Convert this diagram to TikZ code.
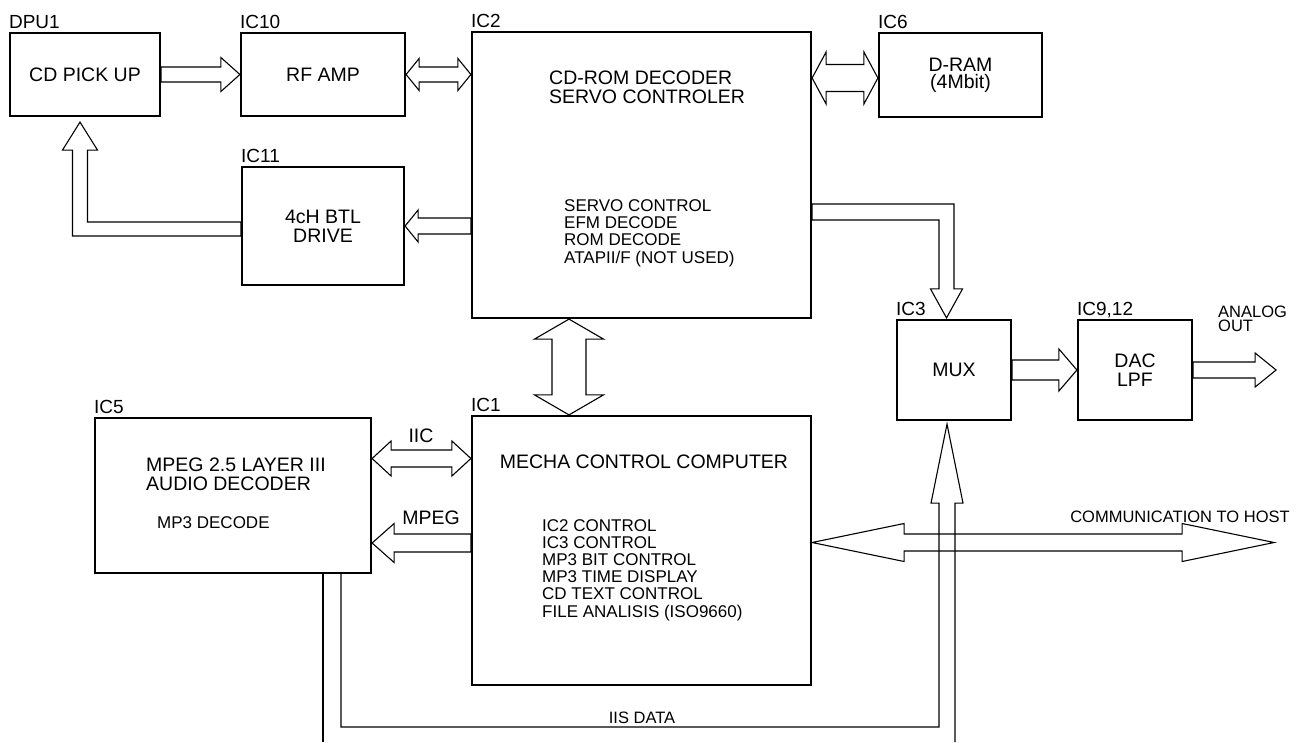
\documentclass[tikz,border=0pt]{standalone}
\usepackage{fontspec}
\setmainfont{Liberation Sans}
\usetikzlibrary{calc}

\newcommand\boxfont{\fontsize{19.5}{19}\selectfont}
\newcommand\dramfont{\fontsize{19.5}{17}\selectfont}
\newcommand\listfont{\fontsize{17}{17.2}\selectfont}
\newcommand\notefont{\fontsize{16.5}{14}\selectfont}

% hollow block arrow: from, tip, shaft half width, head half width, head length
\newcommand{\fatarrow}[5]{%
  \coordinate (fh) at ($(#2)!#5pt!(#1)$);
  \draw[fat] (#2) -- ($(fh)!#4pt!90:(#2)$) -- ($(fh)!#3pt!90:(#2)$) -- ($(#1)!#3pt!90:(fh)$)
    -- ($(#1)!#3pt!-90:(fh)$) -- ($(fh)!#3pt!-90:(#2)$) -- ($(fh)!#4pt!-90:(#2)$) -- cycle;}
% same with a head at both ends
\newcommand{\fatboth}[5]{%
  \coordinate (fa) at ($(#1)!#5pt!(#2)$);
  \coordinate (fb) at ($(#2)!#5pt!(#1)$);
  \draw[fat] (#1) -- ($(fa)!#4pt!90:(#2)$) -- ($(fa)!#3pt!90:(#2)$) -- ($(fb)!#3pt!-90:(#1)$)
    -- ($(fb)!#4pt!-90:(#1)$) -- (#2) -- ($(fb)!#4pt!90:(#1)$) -- ($(fb)!#3pt!90:(#1)$)
    -- ($(fa)!#3pt!-90:(#2)$) -- ($(fa)!#4pt!-90:(#2)$) -- cycle;}

\begin{document}
\begin{tikzpicture}[x=1pt,y=-1pt,
  blk/.style={draw,line width=2.2pt,inner sep=0pt,align=center,font=\boxfont},
  tag/.style={anchor=base west,inner sep=0pt,font=\fontsize{19}{19}\selectfont},
  txt/.style={inner sep=0pt,align=left},
  fat/.style={line width=1.1pt,line join=miter}]
  \useasboundingbox (0,0) rectangle (1297,742);

  \node[blk,minimum width=150pt,minimum height=83pt] (pick) at (85,74.5) {CD PICK UP};
  \node[blk,minimum width=164pt,minimum height=83pt] (rfamp) at (323,74.5) {RF AMP};
  \node[blk,minimum width=339pt,minimum height=286pt] (ic2) at (641.5,175) {};
  \node[blk,minimum width=163pt,minimum height=84pt,font=\dramfont] (dram) at (960.5,75) {D-RAM\\(4Mbit)};
  \node[blk,minimum width=162pt,minimum height=118pt] (btl) at (323,226) {4cH BTL\\DRIVE};
  \node[blk,minimum width=114pt,minimum height=100pt] (mux) at (954,370) {MUX};
  \node[blk,minimum width=114pt,minimum height=100pt] (dac) at (1135,370) {DAC\\LPF};
  \node[blk,minimum width=276pt,minimum height=155pt] (ic5) at (233,495.5) {};
  \node[blk,minimum width=339pt,minimum height=269pt] (ic1) at (641.5,550.5) {};

  \foreach \n/\t in {pick/DPU1,rfamp/IC10,ic2/IC2,dram/IC6,btl/IC11,mux/IC3,dac/{IC9,12},ic5/IC5,ic1/IC1}
    \node[tag] (t\n) at ([yshift=3pt]\n.north west) {\t};

  \node[txt,anchor=base west,font=\boxfont] (ic2t) at (549,103) {CD-ROM DECODER\\SERVO CONTROLER};
  \node[txt,anchor=base west,font=\listfont] (ic2l) at (564,263) {SERVO CONTROL\\EFM DECODE\\ROM DECODE\\ATAPII/F (NOT USED)};
  \node[txt,anchor=base,font=\boxfont] (ic1t) at (644,468) {MECHA CONTROL COMPUTER};
  \node[txt,anchor=base west,font=\listfont] (ic1l) at (542,617) {IC2 CONTROL\\IC3 CONTROL\\MP3 BIT CONTROL\\MP3 TIME DISPLAY\\CD TEXT CONTROL\\FILE ANALISIS (ISO9660)};
  \node[txt,anchor=base west,font=\boxfont] (ic5t) at (146,490) {MPEG 2.5 LAYER III\\AUDIO DECODER};
  \node[txt,anchor=base west,font=\listfont] (ic5l) at (157,528) {MP3 DECODE};
  \node[txt,anchor=base,font=\boxfont] (iic) at (421,442) {IIC};
  \node[txt,anchor=base,font=\boxfont] (mpeg) at (431,524) {MPEG};
  \node[txt,anchor=base,font=\notefont] (host) at (1180,522) {COMMUNICATION TO HOST};
  \node[txt,anchor=base west,font=\notefont] (aout) at (1218,331) {ANALOG\\OUT};
  \node[txt,anchor=base,font=\notefont] (iisd) at (642,723) {IIS DATA};

  \coordinate (p1) at (ic2.west |- rfamp.east);
  \coordinate (p2a) at ([yshift=-3pt]dram.west);
  \coordinate (p2) at (ic2.east |- p2a);
  \coordinate (p3) at (ic2.west |- btl.east);
  \coordinate (p4) at ([xshift=-72.5pt]ic2.south);
  \coordinate (p5) at ([xshift=-72.5pt]ic1.north);
  \coordinate (out) at ([xshift=83pt]dac.east);
  \coordinate (iicl) at ([yshift=37pt]ic5.east);
  \coordinate (iicr) at (ic1.west |- iicl);
  \coordinate (mpl) at ([yshift=-47.5pt]ic5.east);
  \coordinate (mpr) at (ic1.west |- mpl);
  \coordinate (hl) at ([yshift=8pt]ic1.east);
  \coordinate (hr) at ([xshift=462pt]hl);

  \fatarrow{pick.east}{rfamp.west}{7.5}{17}{19}
  \fatboth{rfamp.east}{p1}{7.5}{16}{13}
  \fatboth{p2}{p2a}{13.5}{26}{14}
  \fatarrow{p3}{btl.east}{8}{16}{13}
  \fatboth{p4}{p5}{17}{34.5}{20}
  \fatarrow{mux.east}{dac.west}{10}{21}{18}
  \fatarrow{dac.east}{out}{8}{17}{21}
  \fatboth{iicl}{iicr}{8.5}{17.5}{19}
  \fatarrow{mpr}{mpl}{9}{19.5}{22}
  \fatboth{hl}{hr}{8.5}{19}{92}

  % drive back to the pick up
  \coordinate (pk) at ([xshift=-5pt,yshift=-5pt]pick.south);
  \coordinate (pkc) at ($(pk |- btl.west)+(0,3)$);
  \draw[fat] (pk) -- ++(17.5,28) -- ++(-10,0) -- ($(pkc)+(7.5,-7)$) -- ($(btl.west |- pkc)+(0,-7)$)
    -- ($(btl.west |- pkc)+(0,7)$) -- ($(pkc)+(-7.5,7)$) -- ($(pk)+(-7.5,28)$) -- ++(-10,0) -- cycle;

  % decoder output to the mux
  \coordinate (mx) at ([xshift=-7.5pt,yshift=1pt]mux.north);
  \coordinate (mxc) at ($(mx |- ic2.east)+(0,37)$);
  \draw[fat] (mx) -- ++(16,-29) -- ++(-8.5,0) -- ($(mxc)+(7.5,-8)$) -- ($(ic2.east |- mxc)+(0,-8)$)
    -- ($(ic2.east |- mxc)+(0,8)$) -- ($(mxc)+(-7.5,8)$) -- ($(mx)+(-7.5,-29)$) -- ++(-8.5,0) -- cycle;

  % IIS data into the mux
  \coordinate (ms) at ([xshift=-7pt,yshift=-3pt]mux.south);
  \coordinate (bot) at (0,742);
  \coordinate (iis) at (0,727);
  \coordinate (i5a) at ([xshift=90pt]ic5.south);
  \coordinate (i5b) at ([xshift=108pt]ic5.south);
  \coordinate (msl) at ($(ms)+(-8,79)$);
  \coordinate (msr) at ($(ms)+(8,79)$);
  \draw[fat] (i5b) -- (i5b |- iis) -- (msl |- iis) -- (msl) -- ++(-8,0) -- (ms) -- ++(16,79) -- (msr) -- (msr |- bot);
  \draw[fat] (i5a) -- (i5a |- bot);
\end{tikzpicture}
\end{document}
